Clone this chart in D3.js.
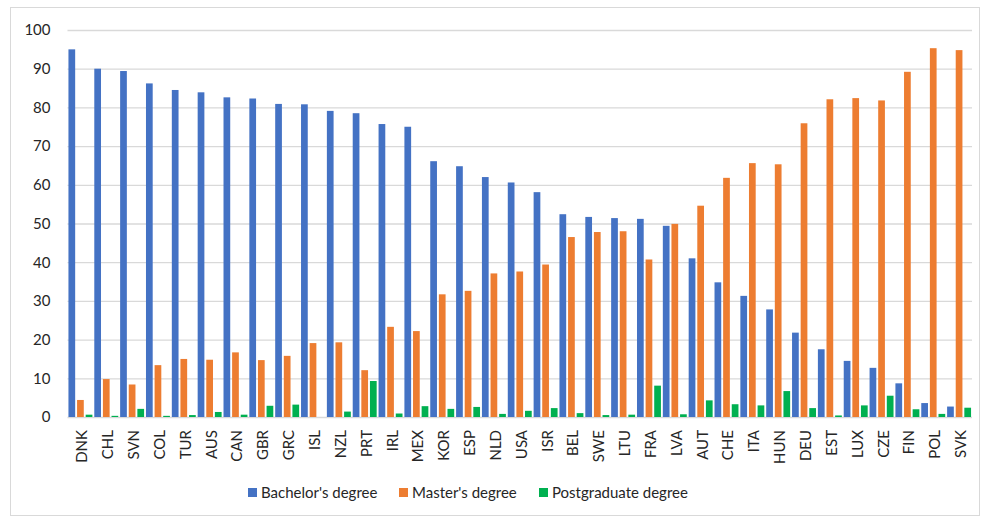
<!DOCTYPE html>
<html>
<head>
<meta charset="utf-8">
<script src="https://cdn.jsdelivr.net/npm/d3@7"></script>
<style>
  html, body { margin: 0; padding: 0; background: #fff; }
  svg { display: block; }
  text { font-family: Lato, "Open Sans", sans-serif; fill: #262626; }
</style>
</head>
<body>
<svg id="chart" width="981" height="518"></svg>
<script>
// Countries in display order
const categories = ["DNK","CHL","SVN","COL","TUR","AUS","CAN","GBR","GRC","ISL","NZL","PRT","IRL","MEX","KOR","ESP","NLD","USA","ISR","BEL","SWE","LTU","FRA","LVA","AUT","CHE","ITA","HUN","DEU","EST","LUX","CZE","FIN","POL","SVK"];

// Share of graduates by degree level (%)
const bachelor = [95.0,90.0,89.4,86.2,84.5,83.9,82.6,82.3,80.9,80.8,79.1,78.5,75.7,75.0,66.1,64.8,62.0,60.6,58.1,52.4,51.7,51.4,51.2,49.4,41.0,34.8,31.3,27.8,21.8,17.5,14.5,12.7,8.7,3.6,2.7];
const master   = [4.4,9.8,8.4,13.4,15.0,14.8,16.7,14.7,15.8,19.1,19.3,12.1,23.3,22.2,31.7,32.6,37.1,37.6,39.4,46.5,47.8,48.0,40.7,49.9,54.6,61.8,65.6,65.3,75.9,82.1,82.4,81.8,89.2,95.3,94.8];
const postgrad = [0.6,0.3,2.1,0.3,0.5,1.3,0.6,2.9,3.2,0.0,1.4,9.3,0.9,2.8,2.1,2.6,0.8,1.6,2.3,1.0,0.5,0.6,8.1,0.7,4.3,3.3,3.0,6.7,2.3,0.4,3.0,5.5,2.0,0.8,2.4];

const seriesNames = ["Bachelor's degree", "Master's degree", "Postgraduate degree"];
const seriesColors = ["#4472C4", "#ED7D31", "#00B050"];
const yTicks = [0,10,20,30,40,50,60,70,80,90,100];

const seriesValues = [bachelor, master, postgrad];

const svg = d3.select("#chart");
const plot = { left: 67.5, right: 972, top: 30, bottom: 417 };
const FONT = "Lato, 'Open Sans', sans-serif";

// Chart frame
svg.append("rect")
  .attr("x", 10.5).attr("y", 7.5)
  .attr("width", 969).attr("height", 508)
  .attr("fill", "#fff").attr("stroke", "#d9d9d9").attr("stroke-width", 1);

const x = d3.scaleBand().domain(categories).range([plot.left, plot.right]).padding(0);
const xs = d3.scaleBand().domain(d3.range(3)).range([0, x.bandwidth()])
  .paddingInner(0.22).paddingOuter(0.11);
const y = d3.scaleLinear().domain([0, 100]).range([plot.bottom, plot.top]);

// Horizontal gridlines and value labels
const yAxis = d3.axisLeft(y).tickValues(yTicks).tickSize(-(plot.right - plot.left)).tickPadding(17);
const gy = svg.append("g").attr("transform", `translate(${plot.left},0)`).call(yAxis);
gy.select(".domain").remove();
gy.selectAll(".tick line").attr("stroke", "#d9d9d9").attr("stroke-width", 1.3);
gy.selectAll(".tick text").attr("font-size", 15).attr("fill", "#262626")
  .style("font-family", FONT);

// Bars
const groups = svg.append("g").selectAll("g")
  .data(categories)
  .join("g")
  .attr("transform", d => `translate(${x(d)},0)`);

groups.selectAll("rect")
  .data((d, i) => seriesValues.map((vals, s) => ({ s, v: vals[i] })))
  .join("rect")
  .attr("x", d => xs(d.s))
  .attr("width", xs.bandwidth())
  .attr("y", d => y(d.v))
  .attr("height", d => y(0) - y(d.v))
  .attr("fill", d => seriesColors[d.s]);

// Category labels, rotated
const xAxis = d3.axisBottom(x).tickSize(0).tickPadding(0);
const gx = svg.append("g").attr("transform", `translate(0,${plot.bottom})`).call(xAxis);
gx.select(".domain").remove();
gx.selectAll(".tick text")
  .attr("font-size", 15).attr("fill", "#262626")
  .style("font-family", FONT)
  .attr("text-anchor", "end")
  .attr("dy", null)
  .attr("dominant-baseline", "central")
  .attr("transform", "translate(1,13) rotate(-90)")
  .attr("x", 0).attr("y", 0);

// Legend
const legendItems = [
  { name: seriesNames[0], color: seriesColors[0], x: 248 },
  { name: seriesNames[1], color: seriesColors[1], x: 399 },
  { name: seriesNames[2], color: seriesColors[2], x: 539 }
];
const lg = svg.append("g");
legendItems.forEach(it => {
  lg.append("rect").attr("x", it.x).attr("y", 488).attr("width", 9).attr("height", 9).attr("fill", it.color);
  lg.append("text").attr("x", it.x + 13).attr("y", 497.5).attr("font-size", 15)
    .style("font-family", FONT).text(it.name);
});
</script>
</body>
</html>
